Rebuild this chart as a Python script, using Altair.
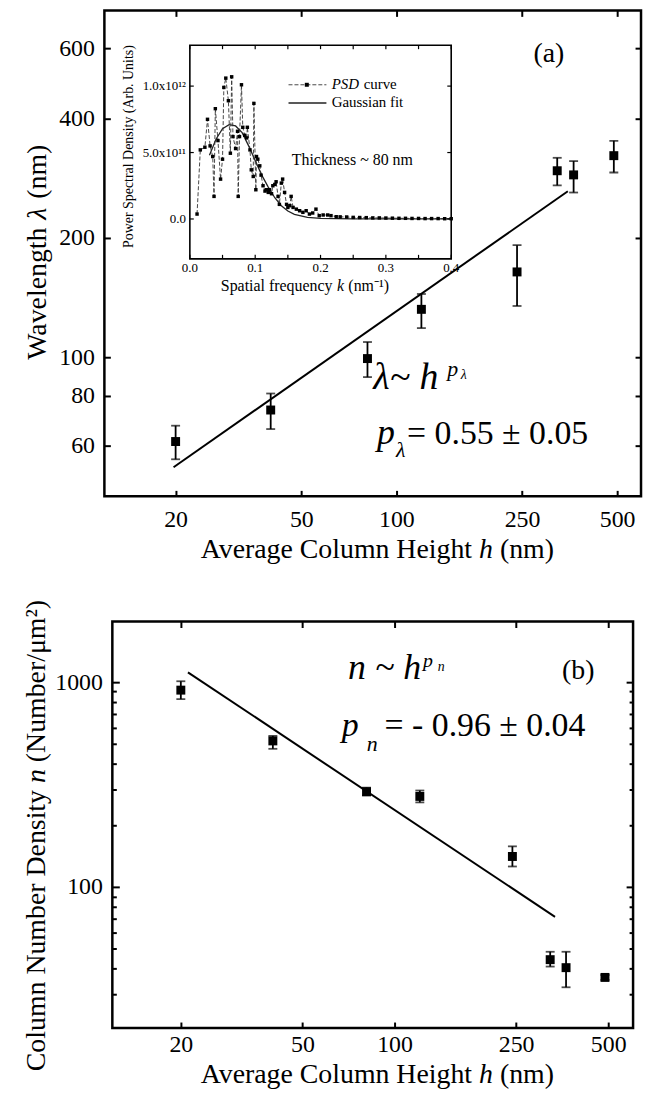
import altair as alt
import pandas as pd
import math

FONT = "Liberation Serif"

# ---------------- panel (a): wavelength vs height ----------------
h_a = [20, 40, 81, 120, 241, 323, 364, 488]
lam_a = [61.3, 73.6, 99.2, 132, 164, 295, 288, 322]
lam_lo = [55.3, 65.9, 89.1, 118.4, 134.6, 271, 260, 292]
lam_hi = [67.2, 81.0, 109.2, 144.3, 191.6, 318, 312, 351]
fit_a_h = [19.7, 349]
fit_a_lam = [52.8, 262]

# ---------------- panel (b): number density vs height ----------------
h_b = [20, 40, 81, 121, 243, 323, 364, 488]
n_b = [915, 517, 292, 277, 141, 44.2, 40.4, 36.2]
n_lo = [827, 473, 280, 259, 126, 40.9, 32.4, 35.2]
n_hi = [1011, 547, 306, 296, 158, 48.3, 48.3, 37.2]
fit_b_h = [21.1, 335]
fit_b_n = [1118, 71.5]

# ---------------- inset: PSD (units of 1e11) ----------------
psd_k = [0.011, 0.016, 0.023, 0.027, 0.031, 0.035, 0.037, 0.039, 0.043, 0.047,
         0.050, 0.052, 0.055, 0.059, 0.062, 0.064, 0.066, 0.070, 0.073, 0.074,
         0.076, 0.079, 0.081, 0.084, 0.087, 0.088, 0.092, 0.094, 0.097, 0.098,
         0.101, 0.102, 0.104, 0.107, 0.109, 0.112, 0.115, 0.117, 0.120, 0.122,
         0.125, 0.127, 0.130, 0.132, 0.135, 0.137, 0.140, 0.142, 0.145, 0.148,
         0.150, 0.153, 0.155, 0.158, 0.163, 0.168, 0.173, 0.178, 0.183, 0.188,
         0.193, 0.198, 0.204, 0.211, 0.216, 0.224, 0.23, 0.24, 0.25, 0.26,
         0.27, 0.28, 0.29, 0.30, 0.31, 0.32, 0.33, 0.34, 0.35, 0.36,
         0.37, 0.38, 0.39, 0.40]
psd_v = [0.37, 5.2, 5.4, 7.5, 5.5, 4.7, 1.7, 8.3, 5.9, 3.0,
         4.5, 9.9, 10.6, 8.9, 4.95, 10.7, 6.2, 5.3, 6.6, 1.7,
         6.2, 10.1, 6.9, 6.3, 6.1, 6.9, 5.2, 3.7, 3.2, 8.7,
         2.2, 4.7, 4.5, 4.0, 3.3, 2.5, 2.1, 2.2, 2.0, 2.2,
         1.9, 2.5, 2.6, 2.8, 1.7, 1.1, 2.7, 3.0, 2.0, 1.1,
         0.87, 1.0, 1.7, 0.87, 0.74, 0.62, 0.5, 0.62, 0.37, 0.45,
         0.74, 0.25, 0.3, 0.3, 0.25, 0.17, 0.16, 0.15, 0.12, 0.11,
         0.10, 0.08, 0.08, 0.07, 0.06, 0.05, 0.05, 0.04, 0.04, 0.03,
         0.03, 0.03, 0.02, 0.02]
gauss_k = [0.03, 0.04, 0.05, 0.06, 0.07, 0.08, 0.09, 0.10, 0.11, 0.12,
           0.13, 0.14, 0.15, 0.16, 0.18, 0.20, 0.25, 0.30, 0.35, 0.40]
gauss_v = [4.8, 6.0, 6.8, 7.1, 7.0, 6.5, 5.5, 4.4, 3.3, 2.4,
           1.6, 1.0, 0.6, 0.35, 0.12, 0.04, 0.0, 0.0, 0.0, 0.0]

# ---------------- tick values / labels ----------------
x_ticks = [20, 50, 100, 250, 500]
ya_ticks = [60, 80, 100, 200, 400, 600]
yb_ticks = [100, 1000]
yb_minor = [30, 40, 50, 60, 70, 80, 90, 200, 300, 400, 500, 600, 700, 800, 900]
ins_x_ticks = [0.0, 0.1, 0.2, 0.3, 0.4]
ins_x_minor = [0.05, 0.15, 0.25, 0.35]
ins_y_ticks = [0, 5, 10]
ins_y_labels = ["0.0", "5.0x10¹¹", "1.0x10¹²"]

# axis limits
XA_DOM = [11.9, 595]
YA_DOM = [44.6, 748]
XB_DOM = [11.94, 603]
YB_DOM = [20.5, 1978]
INS_K = [0.0, 0.4]
INS_V = [-3.0, 13.08]

# ---------------- scales ----------------
XA = alt.Scale(type="log", domain=XA_DOM, nice=False)
YA = alt.Scale(type="log", domain=YA_DOM, nice=False)
XB = alt.Scale(type="log", domain=XB_DOM, nice=False)
YB = alt.Scale(type="log", domain=YB_DOM, nice=False)
XI = alt.Scale(domain=INS_K, range=[86, 349], nice=False, zero=False)
YI = alt.Scale(domain=INS_V, range=[250, 35], nice=False, zero=False)


def ax(orient, values, size=6, labels=True, **kw):
    base = dict(orient=orient, values=values, offset=-size, tickSize=size, tickWidth=2,
                tickColor="black", domain=False, grid=False, labels=labels, title=None,
                labelFont=FONT, labelFontSize=24, labelColor="black", labelFlush=False,
                labelOverlap=False, zindex=1, minExtent=0, format="d")
    base.update(kw)
    return alt.Axis(**base)


def txt(s, x, y, xs, ys, size, style="normal", align="left", baseline="alphabetic", **kw):
    return alt.Chart(alt.Data(values=[{}])).mark_text(
        text=s, font=FONT, fontSize=size, fontStyle=style, align=align,
        baseline=baseline, color="black", **kw).encode(
        x=alt.XDatum(x, type="quantitative", scale=xs, axis=None),
        y=alt.YDatum(y, type="quantitative", scale=ys, axis=None))


def gmean(d):
    return math.sqrt(d[0] * d[1])


def xtitle_parts(dom_x, dom_y, xs, ys, dy):
    # "Average Column Height h (nm)" with italic h, centred on the plot
    xc = gmean(dom_x)
    return [
        txt("Average Column Height", xc, dom_y[0], xs, ys, 28, align="right", dx=100, dy=dy),
        txt("h", xc, dom_y[0], xs, ys, 28, style="italic", align="center", dx=114, dy=dy),
        txt("(nm)", xc, dom_y[0], xs, ys, 28, align="left", dx=128, dy=dy),
    ]


def ytitle_parts(parts, dom_x, dom_y, xs, ys, perp, shifts):
    # rotated title pieces; dx runs along the text (upwards), dy across it
    (a, b, c), (s1, s2, s3) = parts, shifts
    yc = gmean(dom_y)
    return [
        txt(a, dom_x[0], yc, xs, ys, 28, align="right", baseline="middle", angle=270,
            dx=s1, dy=perp),
        txt(b, dom_x[0], yc, xs, ys, 28, style="italic", align="center", baseline="middle",
            angle=270, dx=s2, dy=perp),
        txt(c, dom_x[0], yc, xs, ys, 28, align="left", baseline="middle", angle=270,
            dx=s3, dy=perp),
    ]


def errbars(df, xs, ys):
    rule = alt.Chart(df).mark_rule(color="black", strokeWidth=1.8).encode(
        x=alt.X("h:Q", scale=xs, axis=None),
        y=alt.Y("lo:Q", scale=ys, axis=None), y2="hi:Q")
    lo = alt.Chart(df).mark_tick(orient="horizontal", size=9, thickness=1.8, color="black").encode(
        x=alt.X("h:Q", scale=xs, axis=None), y=alt.Y("lo:Q", scale=ys, axis=None))
    hi = alt.Chart(df).mark_tick(orient="horizontal", size=9, thickness=1.8, color="black").encode(
        x=alt.X("h:Q", scale=xs, axis=None), y=alt.Y("hi:Q", scale=ys, axis=None))
    return [rule, lo, hi]


# ================= panel (a) =================
df_a = pd.DataFrame({"h": h_a, "v": lam_a, "lo": lam_lo, "hi": lam_hi})
pts_a = alt.Chart(df_a).mark_square(size=81, color="black", opacity=1).encode(
    x=alt.X("h:Q", scale=XA, axis=ax("bottom", x_ticks, labelPadding=11)),
    y=alt.Y("v:Q", scale=YA, axis=ax("left", ya_ticks, labelPadding=10)))
mirror_a = alt.Chart(df_a).mark_point(opacity=0).encode(
    x=alt.X("h:Q", scale=XA, axis=ax("top", x_ticks, labels=False)),
    y=alt.Y("v:Q", scale=YA, axis=ax("right", ya_ticks, labels=False)))
fit_a = alt.Chart(pd.DataFrame({"h": fit_a_h, "v": fit_a_lam})).mark_line(
    color="black", strokeWidth=2).encode(
    x=alt.X("h:Q", scale=XA, axis=None), y=alt.Y("v:Q", scale=YA, axis=None))

texts_a = [
    txt("(a)", 304, 582, XA, YA, 28, align="center", baseline="middle"),
    txt("λ~ h", 84.5, 83.2, XA, YA, 38, style="italic"),
    txt("p", 145, 89.6, XA, YA, 22, style="italic"),
    txt("λ", 160, 88.0, XA, YA, 14, style="italic"),
    txt("p", 86.9, 60.6, XA, YA, 36, style="italic"),
    txt("λ", 99.8, 55.9, XA, YA, 22, style="italic"),
    txt("= 0.55 ± 0.05", 108.1, 60.6, XA, YA, 34),
] + xtitle_parts(XA_DOM, YA_DOM, XA, YA, 62) + ytitle_parts(
    ("Wavelength", "λ", "(nm)"), XA_DOM, YA_DOM, XA, YA, -67, (26, 40, 55))

main_a = alt.layer(fit_a, *errbars(df_a, XA, YA), pts_a, mirror_a, *texts_a).resolve_axis(
    x="independent", y="independent")

# ---- inset ----
IX = lambda f: alt.X(f, scale=XI, axis=None)
IY = lambda f: alt.Y(f, scale=YI, axis=None)
df_psd = pd.DataFrame({"k": psd_k, "v": psd_v})
psd_line = alt.Chart(df_psd).mark_line(color="#333", strokeWidth=0.9, strokeDash=[4, 2]).encode(
    x=IX("k:Q"), y=IY("v:Q"))
psd_pts = alt.Chart(df_psd).mark_square(size=12, color="black", opacity=1).encode(
    x=IX("k:Q"), y=IY("v:Q"))
gauss = alt.Chart(pd.DataFrame({"k": gauss_k, "v": gauss_v})).mark_line(
    color="#222", strokeWidth=1.3).encode(x=IX("k:Q"), y=IY("v:Q"))
frame = alt.Chart(alt.Data(values=[{}])).mark_rect(
    fillOpacity=0, stroke="black", strokeWidth=1.6).encode(
    x=alt.XDatum(INS_K[0], type="quantitative", scale=XI, axis=None), x2=alt.X2Datum(INS_K[1]),
    y=alt.YDatum(INS_V[0], type="quantitative", scale=YI, axis=None), y2=alt.Y2Datum(INS_V[1]))

# inset ticks (inward) and tick labels
dxt = pd.DataFrame({"k": ins_x_ticks + ins_x_minor})
tick_len_v = 0.3     # ~4 px in value units
tick_len_k = 0.006   # ~4 px in k units
xt_bot = alt.Chart(dxt).mark_rule(color="black", strokeWidth=1.2).encode(
    x=IX("k:Q"), y=alt.YDatum(INS_V[0], type="quantitative", scale=YI, axis=None),
    y2=alt.Y2Datum(INS_V[0] + tick_len_v))
xt_top = alt.Chart(dxt).mark_rule(color="black", strokeWidth=1.2).encode(
    x=IX("k:Q"), y=alt.YDatum(INS_V[1], type="quantitative", scale=YI, axis=None),
    y2=alt.Y2Datum(INS_V[1] - tick_len_v))
dyt = pd.DataFrame({"v": ins_y_ticks, "lab": ins_y_labels})
yt_left = alt.Chart(dyt).mark_rule(color="black", strokeWidth=1.2).encode(
    y=IY("v:Q"), x=alt.XDatum(INS_K[0], type="quantitative", scale=XI, axis=None),
    x2=alt.X2Datum(INS_K[0] + tick_len_k))
yt_right = alt.Chart(dyt).mark_rule(color="black", strokeWidth=1.2).encode(
    y=IY("v:Q"), x=alt.XDatum(INS_K[1], type="quantitative", scale=XI, axis=None),
    x2=alt.X2Datum(INS_K[1] - tick_len_k))
dxl = pd.DataFrame({"k": ins_x_ticks, "lab": [f"{k:.1f}" for k in ins_x_ticks]})
xlab = alt.Chart(dxl).mark_text(font=FONT, fontSize=13, baseline="top", dy=3, color="black").encode(
    x=IX("k:Q"), y=alt.YDatum(INS_V[0], type="quantitative", scale=YI, axis=None), text="lab:N")
ylab = alt.Chart(dyt).mark_text(font=FONT, fontSize=13, align="right", baseline="middle", dx=-4,
                                color="black").encode(
    y=IY("v:Q"), x=alt.XDatum(INS_K[0], type="quantitative", scale=XI, axis=None), text="lab:N")
ins_xtitle = [
    txt("Spatial frequency", 0.2, INS_V[0], XI, YI, 16, align="right", baseline="middle",
        dx=12, dy=27),
    txt("k", 0.2, INS_V[0], XI, YI, 16, style="italic", align="center", baseline="middle",
        dx=20, dy=27),
    txt("(nm⁻¹)", 0.2, INS_V[0], XI, YI, 16, align="left", baseline="middle", dx=28, dy=27),
]
ytitle = txt("Power Spectral Density (Arb. Units)", INS_K[0], 5.45, XI, YI, 14, align="center",
             baseline="middle", angle=270, dy=-61)

leg1 = alt.Chart(pd.DataFrame({"k": [0.151, 0.209], "v": [10.1, 10.1]})).mark_line(
    color="#333", strokeWidth=0.9, strokeDash=[4, 2]).encode(x=IX("k:Q"), y=IY("v:Q"))
leg1m = alt.Chart(pd.DataFrame({"k": [0.179], "v": [10.1]})).mark_square(
    size=16, color="black", opacity=1).encode(x=IX("k:Q"), y=IY("v:Q"))
leg2 = alt.Chart(pd.DataFrame({"k": [0.151, 0.209], "v": [8.73, 8.73]})).mark_line(
    color="#222", strokeWidth=1.3).encode(x=IX("k:Q"), y=IY("v:Q"))
ins_texts = [
    txt("PSD", 0.217, 9.8, XI, YI, 15, style="italic"),
    txt("curve", 0.266, 9.8, XI, YI, 15),
    txt("Gaussian fit", 0.217, 8.43, XI, YI, 15),
    txt("Thickness ~ 80 nm", 0.156, 4.03, XI, YI, 16),
]
inset_a = alt.layer(frame, gauss, psd_line, psd_pts, xt_bot, xt_top, yt_left, yt_right,
                    xlab, ylab, *ins_xtitle, ytitle, leg1, leg1m, leg2, *ins_texts)

chart_a = alt.layer(main_a, inset_a).resolve_scale(
    x="independent", y="independent").properties(width=540, height=489)

# ================= panel (b) =================
df_b = pd.DataFrame({"h": h_b, "v": n_b, "lo": n_lo, "hi": n_hi})
pts_b = alt.Chart(df_b).mark_square(size=81, color="black", opacity=1).encode(
    x=alt.X("h:Q", scale=XB, axis=ax("bottom", x_ticks, labelPadding=5)),
    y=alt.Y("v:Q", scale=YB, axis=ax("left", yb_ticks, size=7, labelPadding=10)))
mirror_b = alt.Chart(df_b).mark_point(opacity=0).encode(
    x=alt.X("h:Q", scale=XB, axis=ax("top", x_ticks, labels=False)),
    y=alt.Y("v:Q", scale=YB, axis=ax("right", yb_ticks, size=7, labels=False)))
minor_l = alt.Chart(df_b).mark_point(opacity=0).encode(
    x=alt.X("h:Q", scale=XB, axis=None),
    y=alt.Y("v:Q", scale=YB, axis=ax("left", yb_minor, size=4, labels=False)))
minor_r = alt.Chart(df_b).mark_point(opacity=0).encode(
    x=alt.X("h:Q", scale=XB, axis=None),
    y=alt.Y("v:Q", scale=YB, axis=ax("right", yb_minor, size=4, labels=False)))
fit_b = alt.Chart(pd.DataFrame({"h": fit_b_h, "v": fit_b_n})).mark_line(
    color="black", strokeWidth=2).encode(
    x=alt.X("h:Q", scale=XB, axis=None), y=alt.Y("v:Q", scale=YB, axis=None))

texts_b = [
    txt("(b)", 399, 1131, XB, YB, 28, align="center", baseline="middle"),
    txt("n ~ h", 70.5, 1034, XB, YB, 36, style="italic"),
    txt("p", 124, 1183, XB, YB, 20, style="italic"),
    txt("n", 138.5, 1131, XB, YB, 14, style="italic"),
    txt("p", 67.2, 547, XB, YB, 34, style="italic"),
    txt("n", 81.1, 462, XB, YB, 22, style="italic"),
    txt("= - 0.96 ± 0.04", 92.8, 547, XB, YB, 34),
] + xtitle_parts(XB_DOM, YB_DOM, XB, YB, 55) + ytitle_parts(
    ("Column Number Density", "n", "(Number/μm²)"), XB_DOM, YB_DOM, XB, YB, -76, (35, 49, 63))

chart_b = alt.layer(fit_b, *errbars(df_b, XB, YB), pts_b, mirror_b, minor_l, minor_r,
                    *texts_b).resolve_axis(x="independent", y="independent").properties(
    width=524, height=409)

chart = alt.vconcat(chart_a, chart_b, spacing=126, bounds="flush", center=True).configure_view(
    stroke="black", strokeWidth=2.5).properties(
    autosize=alt.AutoSizeParams(type="pad"),
    padding={"left": 13, "top": -4, "right": 0, "bottom": 0})

chart.save("out.html", embed_options={"renderer": "svg", "actions": False})
